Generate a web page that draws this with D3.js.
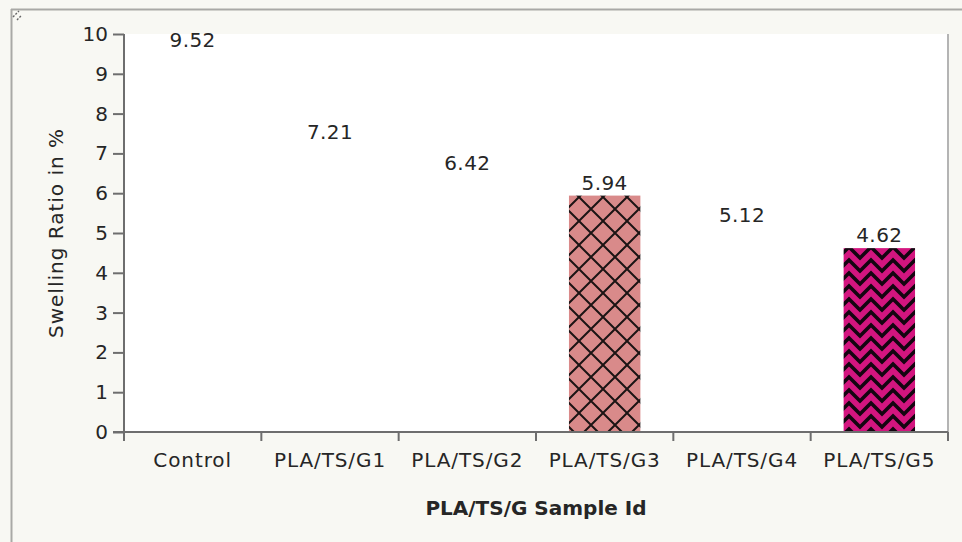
<!DOCTYPE html>
<html>
<head>
<meta charset="utf-8">
<script src="https://cdn.jsdelivr.net/npm/d3@7"></script>
<style>
  html, body { margin: 0; padding: 0; background: #f8f8f3; }
  svg { display: block; }
  text { font-family: "DejaVu Sans", Verdana, sans-serif; fill: #262626; }
</style>
</head>
<body>
<svg id="chart" width="962" height="542"></svg>
<script>
// Sample ids and measured swelling ratios (%)
const categories = ["Control", "PLA/TS/G1", "PLA/TS/G2", "PLA/TS/G3", "PLA/TS/G4", "PLA/TS/G5"];
const swelling = [9.52, 7.21, 6.42, 5.94, 5.12, 4.62];
const yTicks = [0, 1, 2, 3, 4, 5, 6, 7, 8, 9, 10];
const labels = ["9.52", "7.21", "6.42", "5.94", "5.12", "4.62"];

// Bar fills: most bars are white, two carry pattern fills
const barFill = {
  "Control": "#ffffff",
  "PLA/TS/G1": "#ffffff",
  "PLA/TS/G2": "#ffffff",
  "PLA/TS/G3": "url(#diamondFill)",
  "PLA/TS/G4": "#ffffff",
  "PLA/TS/G5": "url(#zigzagFill)"
};

const svg = d3.select("#chart");
const plot = { left: 124, right: 948, top: 34, bottom: 432 };

// Outer frame
svg.append("rect").attr("x", 0).attr("y", 0).attr("width", 962).attr("height", 542).attr("fill", "#f8f8f3");
svg.append("line").attr("x1", 11).attr("x2", 962).attr("y1", 9.5).attr("y2", 9.5)
  .attr("stroke", "#a9a9a6").attr("stroke-width", 2);
svg.append("line").attr("x1", 11.5).attr("x2", 11.5).attr("y1", 9).attr("y2", 542)
  .attr("stroke", "#a9a9a6").attr("stroke-width", 2);
// small corner grip
svg.append("path").attr("d", "M13,17 L19,11 M17,20 L21,16")
  .attr("stroke", "#666").attr("stroke-width", 1.4).attr("stroke-dasharray", "2,1.5");

// Pattern definitions
const defs = svg.append("defs");
const dia = defs.append("pattern").attr("id", "diamondFill")
  .attr("patternUnits", "userSpaceOnUse").attr("width", 24).attr("height", 24)
  .attr("x", 3).attr("y", 5);
dia.append("rect").attr("width", 24).attr("height", 24).attr("fill", "#d98a8a");
dia.append("path").attr("d", "M-2,-2 L26,26 M26,-2 L-2,26")
  .attr("stroke", "#1c1414").attr("stroke-width", 2).attr("fill", "none");

const zz = defs.append("pattern").attr("id", "zigzagFill")
  .attr("patternUnits", "userSpaceOnUse").attr("width", 22).attr("height", 13)
  .attr("x", 2).attr("y", 4);
zz.append("rect").attr("width", 22).attr("height", 13).attr("fill", "#d3157f");
zz.append("path").attr("d", "M-5.5,12.5 L0,7 L11,-4 L22,7 L27.5,12.5 M-5.5,25.5 L0,20 L11,9 L22,20 L27.5,25.5")
  .attr("stroke", "#140510").attr("stroke-width", 3.6).attr("fill", "none");

// Plot area
svg.append("rect").attr("x", plot.left).attr("y", plot.top)
  .attr("width", plot.right - plot.left).attr("height", plot.bottom - plot.top)
  .attr("fill", "#ffffff");
svg.append("line").attr("x1", plot.right).attr("x2", plot.right)
  .attr("y1", plot.top).attr("y2", plot.bottom)
  .attr("stroke", "#b4b4b4").attr("stroke-width", 2);

// Scales
const x = d3.scaleBand().domain(categories).range([plot.left, plot.right])
  .paddingInner(0.48).paddingOuter(0.24);
const y = d3.scaleLinear().domain([0, 10]).range([plot.bottom, plot.top]);

// Bars
svg.append("g").selectAll("rect").data(categories).join("rect")
  .attr("x", d => x(d))
  .attr("y", (d, i) => y(swelling[i]))
  .attr("width", x.bandwidth())
  .attr("height", (d, i) => y(0) - y(swelling[i]))
  .attr("fill", d => barFill[d]);

// Value labels
svg.append("g").selectAll("text").data(categories).join("text")
  .attr("x", d => x(d) + x.bandwidth() / 2)
  .attr("y", (d, i) => y(swelling[i]) - 6)
  .attr("text-anchor", "middle")
  .attr("font-size", 20)
  .attr("letter-spacing", 0.4)
  .text((d, i) => labels[i]);

// Y axis
const yAxis = svg.append("g").attr("transform", `translate(${plot.left},0)`)
  .call(d3.axisLeft(y).tickValues(yTicks).tickFormat(d3.format("d")).tickSize(11).tickPadding(5));
yAxis.select(".domain").attr("d", `M0,${plot.top}V${plot.bottom + 9}`)
  .attr("stroke", "#6e6e6e").attr("stroke-width", 2);
yAxis.selectAll(".tick line").attr("stroke", "#6e6e6e").attr("stroke-width", 2);
yAxis.selectAll(".tick text").attr("font-size", 20).attr("fill", "#262626")
  .attr("font-family", "DejaVu Sans, sans-serif");

// X axis: labels centred in bands, ticks on band boundaries
const xAxis = svg.append("g").attr("transform", `translate(0,${plot.bottom})`)
  .call(d3.axisBottom(x).tickSize(0).tickPadding(21));
xAxis.select(".domain").attr("d", `M${plot.left - 11},0H${plot.right}`)
  .attr("stroke", "#6e6e6e").attr("stroke-width", 2);
xAxis.selectAll(".tick text").attr("font-size", 20).attr("fill", "#262626")
  .attr("letter-spacing", 0.9)
  .attr("font-family", "DejaVu Sans, sans-serif");
const bounds = categories.map(d => x(d) - x.step() * x.paddingInner() / 2).concat([plot.right]);
xAxis.selectAll("line.bound").data(bounds).join("line").attr("class", "bound")
  .attr("x1", d => d).attr("x2", d => d).attr("y1", 0).attr("y2", 9)
  .attr("stroke", "#6e6e6e").attr("stroke-width", 2);

// Axis titles
svg.append("text")
  .attr("x", (plot.left + plot.right) / 2).attr("y", 515)
  .attr("text-anchor", "middle").attr("font-size", 20).attr("font-weight", "bold")
  .text("PLA/TS/G Sample Id");
svg.append("text")
  .attr("transform", `translate(63,${(plot.top + plot.bottom) / 2}) rotate(-90)`)
  .attr("text-anchor", "middle").attr("font-size", 20).attr("letter-spacing", 1)
  .text("Swelling Ratio in %");
</script>
</body>
</html>
